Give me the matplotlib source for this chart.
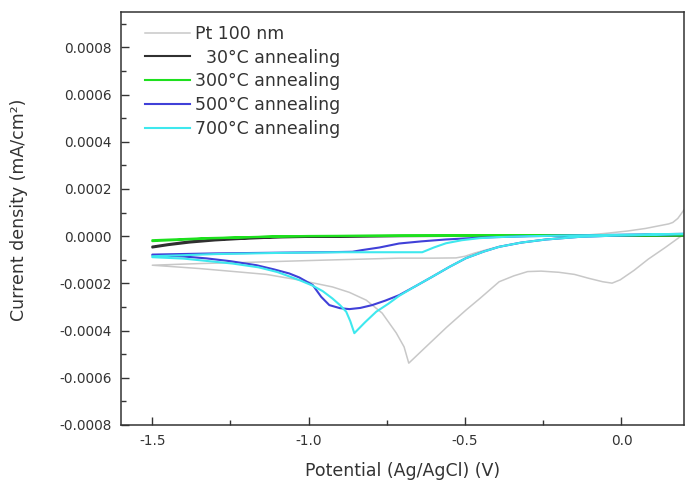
import numpy as np
import matplotlib
matplotlib.use("Agg")
import matplotlib.pyplot as plt
from matplotlib.ticker import MultipleLocator, FormatStrFormatter

plt.rcParams['axes.unicode_minus'] = False
plt.rcParams['font.family'] = ['DejaVu Sans']

# current density values are in units of 1e-4 mA/cm2
scale = 1e-4

# Pt 100 nm
pt_lo_x = [-1.50, -1.35, -1.22, -1.135, -1.03, -0.924, -0.87, -0.816, -0.765, -0.72, -0.695, -0.68,
           -0.63, -0.559, -0.497, -0.451, -0.391, -0.344, -0.30, -0.257, -0.20, -0.15, -0.106, -0.06,
           -0.03, -0.004, 0.04, 0.086, 0.14, 0.186, 0.20]
pt_lo_y = [-1.23, -1.37, -1.52, -1.62, -1.86, -2.15, -2.38, -2.71, -3.26, -4.10, -4.69, -5.38,
           -4.75, -3.86, -3.13, -2.62, -1.93, -1.68, -1.50, -1.48, -1.53, -1.62, -1.78, -1.93,
           -1.99, -1.85, -1.45, -0.97, -0.48, -0.04, 0.06]
pt_up_x = [-1.50, -1.35, -1.20, -0.966, -0.711, -0.60, -0.529, -0.50, -0.471, -0.43, -0.391, -0.33,
           -0.264, -0.20, -0.136, -0.05, 0.02, 0.078, 0.12, 0.151, 0.164, 0.18, 0.19, 0.20]
pt_up_y = [-1.23, -1.16, -1.11, -1.02, -0.93, -0.93, -0.92, -0.85, -0.72, -0.57, -0.44, -0.30,
           -0.17, -0.07, 0.02, 0.12, 0.22, 0.33, 0.44, 0.52, 0.58, 0.75, 0.93, 1.12]

# 30 C annealing
b30_x = [-1.50, -1.45, -1.381, -1.30, -1.221, -1.116, -1.0, -0.7, -0.4, -0.1, 0.2]
b30_lo = [-0.48, -0.38, -0.27, -0.18, -0.12, -0.06, -0.03, 0.0, 0.02, 0.03, 0.04]
b30_up = [-0.44, -0.34, -0.22, -0.14, -0.09, -0.04, -0.01, 0.01, 0.02, 0.03, 0.03]

# 300 C annealing
g300_x = [-1.50, -1.40, -1.327, -1.20, -1.116, -1.0, -0.7, -0.4, -0.1, 0.2]
g300_lo = [-0.21, -0.15, -0.10, -0.05, -0.02, 0.0, 0.02, 0.03, 0.03, 0.04]
g300_up = [-0.17, -0.12, -0.08, -0.04, -0.01, 0.01, 0.03, 0.03, 0.04, 0.04]

# 500 C annealing
b500_lo_x = [-1.50, -1.40, -1.327, -1.25, -1.167, -1.11, -1.062, -1.03, -0.987, -0.96, -0.934, -0.90,
             -0.87, -0.835, -0.797, -0.755, -0.711, -0.66, -0.605, -0.55, -0.497, -0.44, -0.391,
             -0.32, -0.241, -0.136, -0.03, 0.10, 0.20]
b500_lo_y = [-0.80, -0.86, -0.94, -1.06, -1.23, -1.41, -1.58, -1.75, -2.07, -2.57, -2.92, -3.05,
             -3.09, -3.04, -2.92, -2.73, -2.50, -2.13, -1.72, -1.30, -0.93, -0.65, -0.45,
             -0.27, -0.14, -0.03, 0.02, 0.06, 0.09]
b500_up_x = [-1.50, -1.30, -1.10, -0.90, -0.86, -0.83, -0.774, -0.711, -0.64, -0.562, -0.45, -0.296,
             -0.10, 0.10, 0.20]
b500_up_y = [-0.78, -0.73, -0.70, -0.67, -0.66, -0.59, -0.48, -0.31, -0.22, -0.14, -0.06, 0.00,
             0.04, 0.08, 0.10]

# 700 C annealing
c700_lo_x = [-1.50, -1.40, -1.243, -1.16, -1.10, -1.03, -0.99, -0.955, -0.924, -0.90, -0.88, -0.867,
             -0.854, -0.82, -0.784, -0.745, -0.711, -0.66, -0.605, -0.55, -0.497, -0.44, -0.391,
             -0.32, -0.241, -0.136, -0.03, 0.10, 0.20]
c700_lo_y = [-0.89, -0.95, -1.16, -1.32, -1.52, -1.86, -2.08, -2.33, -2.64, -2.92, -3.20, -3.60,
             -4.11, -3.65, -3.20, -2.86, -2.53, -2.13, -1.72, -1.30, -0.93, -0.65, -0.45,
             -0.27, -0.14, -0.03, 0.02, 0.06, 0.09]
c700_up_x = [-1.50, -1.30, -1.10, -0.90, -0.75, -0.637, -0.60, -0.561, -0.51, -0.455, -0.40, -0.296,
             -0.10, 0.10, 0.20]
c700_up_y = [-0.85, -0.76, -0.71, -0.68, -0.68, -0.68, -0.48, -0.30, -0.17, -0.085, -0.04, 0.00,
             0.04, 0.08, 0.10]

labels = ['Pt 100 nm', '  30°C annealing', '300°C annealing', '500°C annealing', '700°C annealing']
colors = ['#c8c8c8', '#303030', '#1ee01e', '#4040d8', '#3ee8ee']
widths = [1.1, 1.5, 1.5, 1.5, 1.5]


def loop(lo_x, lo_y, up_x, up_y):
    x = np.concatenate([np.array(up_x)[::-1], np.array(lo_x)])
    y = np.concatenate([np.array(up_y)[::-1], np.array(lo_y)]) * scale
    return x, y


curves = [
    loop(pt_lo_x, pt_lo_y, pt_up_x, pt_up_y),
    loop(b30_x, b30_lo, b30_x, b30_up),
    loop(g300_x, g300_lo, g300_x, g300_up),
    loop(b500_lo_x, b500_lo_y, b500_up_x, b500_up_y),
    loop(c700_lo_x, c700_lo_y, c700_up_x, c700_up_y),
]

fig = plt.figure(figsize=(6.88, 4.83), dpi=100)
ax = fig.add_axes([0.1759, 0.1201, 0.8183, 0.8551])

for (x, y), lab, col, lw in zip(curves, labels, colors, widths):
    ax.plot(x, y, color=col, lw=lw, label=lab)

ax.set_xlim(-1.6, 0.2)
ax.set_ylim(-0.0008, 0.00095)
ax.xaxis.set_major_locator(MultipleLocator(0.5))
ax.xaxis.set_minor_locator(MultipleLocator(0.25))
ax.yaxis.set_major_locator(MultipleLocator(0.0002))
ax.yaxis.set_minor_locator(MultipleLocator(0.0001))
ax.xaxis.set_major_formatter(FormatStrFormatter('%.1f'))
ax.yaxis.set_major_formatter(FormatStrFormatter('%.4f'))
ax.tick_params(which='both', direction='in', color='#333333', width=1.0, labelcolor='#333333',
               labelsize=9.8, pad=6.5)
ax.tick_params(which='major', length=5.5)
ax.tick_params(which='minor', length=3.8)
for s in ax.spines.values():
    s.set_color('#333333')
    s.set_linewidth(1.1)

ax.set_xlabel('Potential (Ag/AgCl) (V)', fontsize=12.5, color='#333333')
ax.set_ylabel('Current density (mA/cm²)', fontsize=12.5, color='#333333')
ax.xaxis.set_label_coords(0.5, -0.09)
ax.yaxis.set_label_coords(-0.165, 0.52)

leg = ax.legend(loc='upper left', bbox_to_anchor=(0.027, 0.99), frameon=False, fontsize=12.5,
                handlelength=2.6, handletextpad=0.3, labelspacing=0.33, borderaxespad=0.1)
for t in leg.get_texts():
    t.set_color('#333333')

fig.savefig('out.png', dpi=100)
